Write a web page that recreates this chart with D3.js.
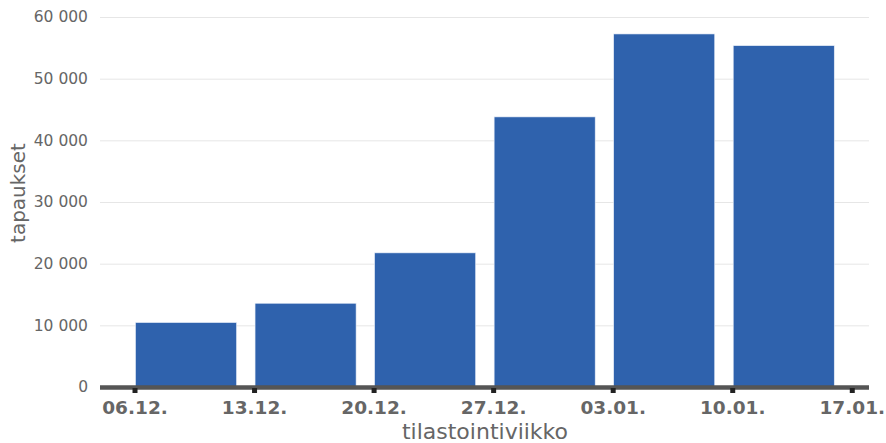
<!DOCTYPE html>
<html>
<head>
<meta charset="utf-8">
<script src="https://cdn.jsdelivr.net/npm/d3@7"></script>
<style>
body{margin:0;background:#fff;}
svg{display:block;font-family:"DejaVu Sans",sans-serif;}
</style>
</head>
<body>
<svg id="c" width="886" height="443"></svg>
<script>
const weeks = ["2020-12-06","2020-12-13","2020-12-20","2020-12-27","2021-01-03","2021-01-10"];
const cases = [10450, 13580, 21750, 43800, 57250, 55350];
const xTicks = ["2020-12-06","2020-12-13","2020-12-20","2020-12-27","2021-01-03","2021-01-10","2021-01-17"];
const yTicks = [0,10000,20000,30000,40000,50000,60000];
const xTitle = "tilastointiviikko";
const yTitle = "tapaukset";

(function(){
const parse = d3.utcParse("%Y-%m-%d");
const svg = d3.select("#c");
const mL = 100, mR = 869, mT = 17, mB = 387;
const day = 86400000;

const x = d3.scaleUtc()
  .domain([new Date(parse("2020-12-06").getTime() - 2.05*day), new Date(parse("2021-01-17").getTime() + 0.98*day)])
  .range([mL, mR]);
const y = d3.scaleLinear().domain([0,60000]).range([mB, mT]);

const loc = d3.formatLocale({decimal:",", thousands:"\u00a0", grouping:[3], currency:["","€"]});
const fmt = loc.format(",d");

svg.append("g").selectAll("line").data(yTicks.filter(d=>d>0)).join("line")
  .attr("x1", mL).attr("x2", mR)
  .attr("y1", d=>y(d)+0.5).attr("y2", d=>y(d)+0.5)
  .attr("stroke", "#e6e6e6").attr("stroke-width", 1);

svg.append("g").selectAll("text").data(yTicks).join("text")
  .attr("x", 88).attr("y", d=>y(d)).attr("dy","0.35em")
  .attr("text-anchor","end").attr("fill","#666").attr("font-size","15.5px")
  .text(d=>fmt(d));

svg.append("g").selectAll("rect").data(weeks.map((w,i)=>({d:parse(w), v:cases[i]}))).join("rect")
  .attr("x", d=>x(d.d)+0.5)
  .attr("width", d=>x(new Date(d.d.getTime()+7*day)) - x(d.d) - 18.5)
  .attr("y", d=>y(d.v))
  .attr("height", d=>mB - y(d.v))
  .attr("fill","#2f62ad").attr("stroke","#e8eef8").attr("stroke-width",0.6);

svg.append("line").attr("x1", mL).attr("x2", mR).attr("y1", mB+0.5).attr("y2", mB+0.5)
  .attr("stroke","#555").attr("stroke-width",4.5);

svg.append("g").selectAll("rect").data(xTicks.map(parse)).join("rect")
  .attr("x", d=>x(d)-2.5).attr("y", mB+1).attr("width",5).attr("height",5).attr("fill","#222");

const tf = d3.utcFormat("%d.%m.");
svg.append("g").selectAll("text").data(xTicks.map(parse)).join("text")
  .attr("x", d=>x(d)).attr("y", 413.5)
  .attr("text-anchor","middle").attr("fill","#666").attr("font-size","18.5px").attr("font-weight","bold")
  .text(d=>tf(d));

svg.append("text").attr("x", 485).attr("y", 438.5).attr("text-anchor","middle")
  .attr("fill","#666").attr("font-size","22px").text(xTitle);

svg.append("text").attr("transform","translate(25,193) rotate(-90)").attr("text-anchor","middle")
  .attr("fill","#666").attr("font-size","20px").text(yTitle);
})();
</script>
</body>
</html>
